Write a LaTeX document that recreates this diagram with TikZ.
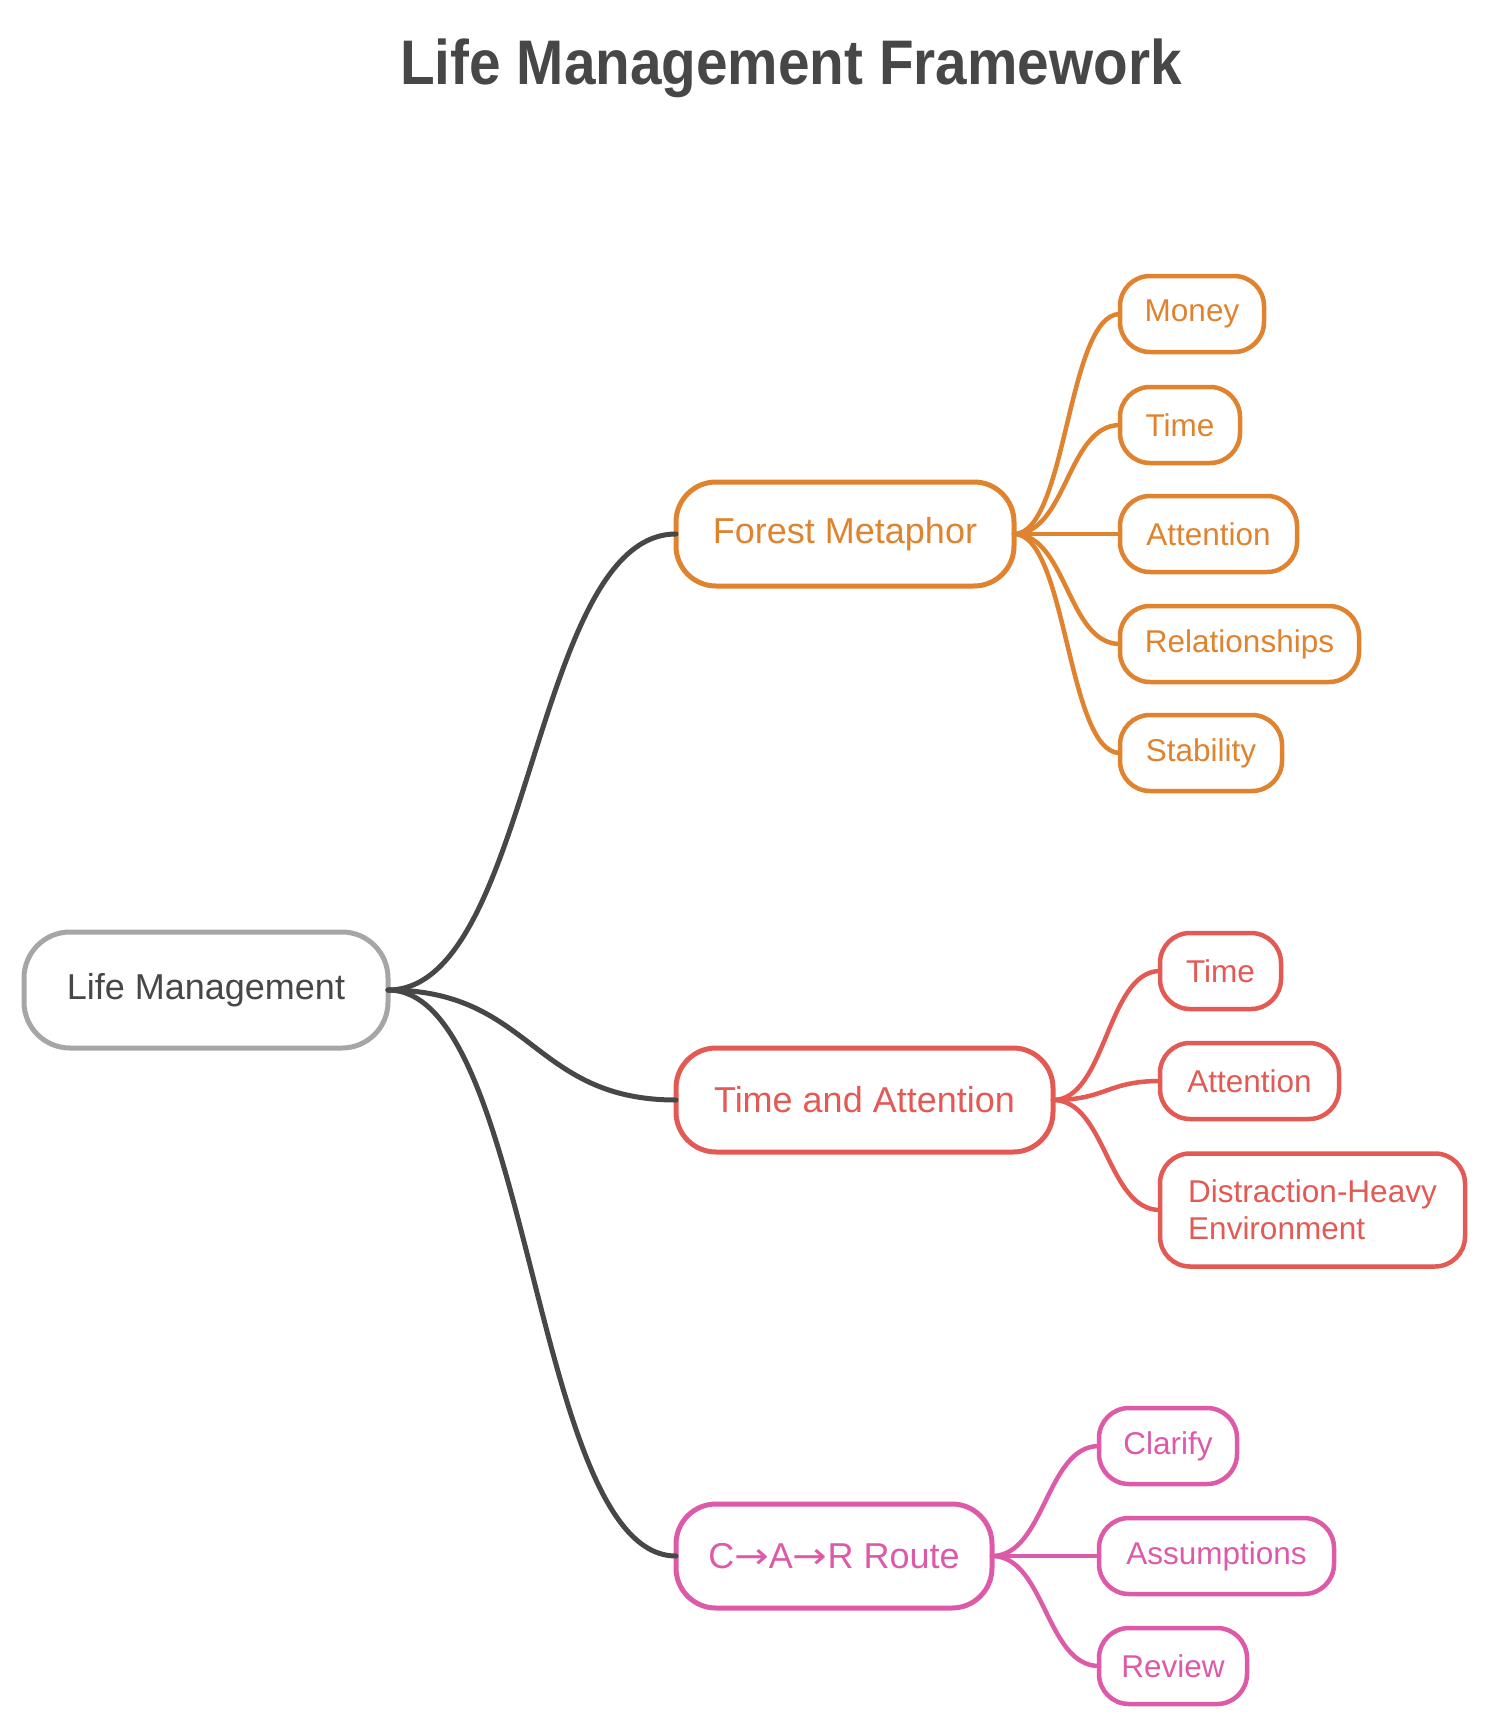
\documentclass[tikz,border=0pt]{standalone}
\usepackage{fontspec}
\usepackage{graphicx}
\setmainfont{Liberation Sans}
\newfontfamily\arrowfont{DejaVu Sans}
\definecolor{dark}{HTML}{474747}
\definecolor{rootgrey}{HTML}{A6A6A6}
\definecolor{orng}{HTML}{E0832F}
\definecolor{redc}{HTML}{E35A55}
\definecolor{pinkc}{HTML}{DC5AA8}
\tikzset{
  box/.style={draw, line width=5pt, fill=white, inner sep=0pt, outer sep=0pt, align=center},
  rootbox/.style={box, draw=rootgrey, text=dark, rounded corners=46pt, minimum height=116pt, font=\fontsize{36}{43}\selectfont},
  mainbox/.style={box, draw=#1, text=#1, rounded corners=40pt, minimum height=104pt, font=\fontsize{36}{43}\selectfont},
  leafbox/.style={box, line width=4.5pt, draw=#1, text=#1, rounded corners=30pt, minimum height=76pt, font=\fontsize{31.5}{37}\selectfont},
  rootconn/.style={draw=dark, line width=5pt, line cap=round},
  leafconn/.style={draw=#1, line width=4.5pt, line cap=round},
}
\newcommand{\longarr}{\scalebox{1.15}[1]{\arrowfont →}}
\begin{document}
\begin{tikzpicture}[x=1pt, y=-1pt]
\useasboundingbox (0,0) rectangle (1505,1734);
\node[text=dark, font=\bfseries\fontsize{63}{70}\selectfont] (title) at (791,68) {\scalebox{0.9}[1]{Life Management Framework}};
\node[rootbox, minimum width=364pt] (root) at (206,990) {Life Management};
\node[mainbox=orng, minimum width=338pt] (forest) at (845,534) {Forest Metaphor};
\node[mainbox=redc, minimum width=377pt] (timeatt) at (864.5,1100) {Time and Attention};
\node[mainbox=pinkc, minimum width=316pt] (car) at (834,1556) {C\longarr A\longarr R Route};
% forest children
\node[leafbox=orng, minimum width=144pt] (money) at (1192,314) {Money};
\node[leafbox=orng, minimum width=120pt] (time1) at (1180,425) {Time};
\node[leafbox=orng, minimum width=177pt] (att1) at (1208.5,534) {Attention};
\node[leafbox=orng, minimum width=239pt] (rel) at (1239.5,644) {Relationships};
\node[leafbox=orng, minimum width=162pt] (stab) at (1201,753) {Stability};
% time and attention children
\node[leafbox=redc, minimum width=121pt] (time2) at (1220.5,971) {Time};
\node[leafbox=redc, minimum width=179pt] (att2) at (1249.5,1081) {Attention};
\node[leafbox=redc, minimum width=305pt, minimum height=113pt, align=left] (dist) at (1312.5,1210) {Distraction-Heavy\\Environment};
% car children
\node[leafbox=pinkc, minimum width=138pt] (clar) at (1168,1446) {Clarify};
\node[leafbox=pinkc, minimum width=235pt] (assum) at (1216.5,1556) {Assumptions};
\node[leafbox=pinkc, minimum width=148pt] (rev) at (1173,1666) {Review};
% connectors
\path[rootconn] (root.east) .. controls +(144,0) and +(-144,0) .. (forest.west);
\path[rootconn] (root.east) .. controls +(144,0) and +(-144,0) .. (timeatt.west);
\path[rootconn] (root.east) .. controls +(144,0) and +(-144,0) .. (car.west);
\foreach \c in {money,time1,att1,rel,stab}{
  \path[leafconn=orng] (forest.east) .. controls +(53,0) and +(-53,0) .. (\c.west);
}
\foreach \c in {time2,att2,dist}{
  \path[leafconn=redc] (timeatt.east) .. controls +(53,0) and +(-53,0) .. (\c.west);
}
\foreach \c in {clar,assum,rev}{
  \path[leafconn=pinkc] (car.east) .. controls +(53,0) and +(-53,0) .. (\c.west);
}
\end{tikzpicture}
\end{document}
